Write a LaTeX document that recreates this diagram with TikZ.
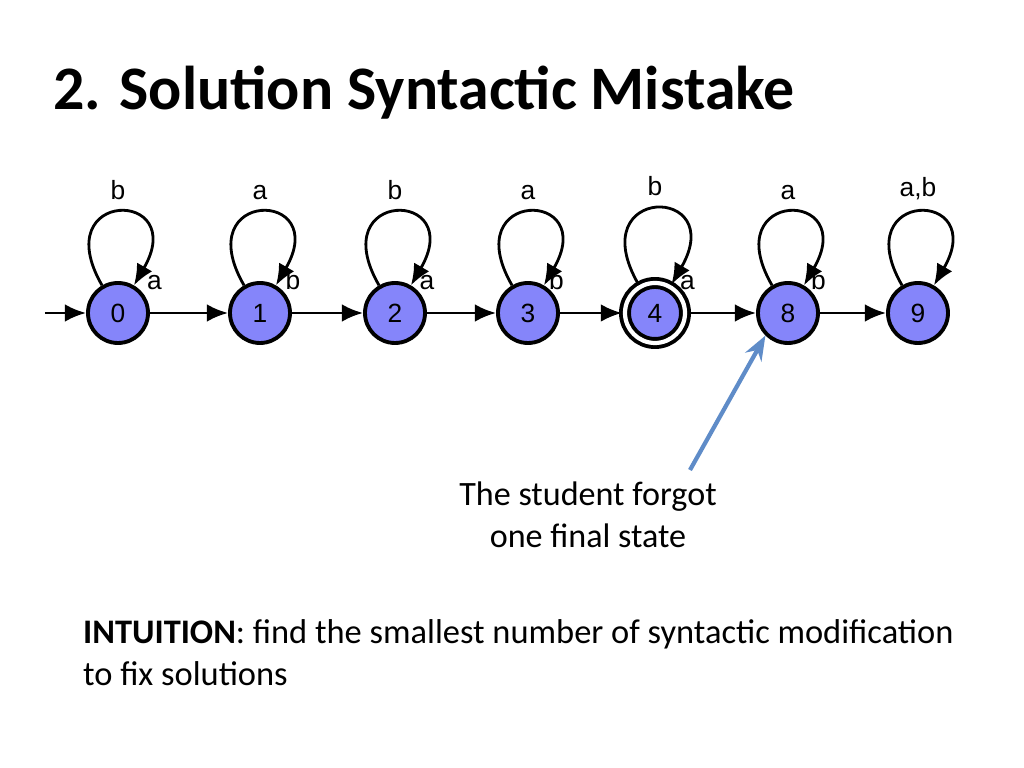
\documentclass[tikz,border=0pt]{standalone}
\usepackage{fontspec}
\setmainfont{Carlito}
\newfontfamily\autfont{Liberation Sans}
\usetikzlibrary{automata,arrows.meta,positioning}

\definecolor{statefill}{RGB}{133,133,250}
\definecolor{hintblue}{RGB}{95,140,200}

\begin{document}
\begin{tikzpicture}[font=\autfont\fontsize{7.5}{8}\selectfont,
  >={Latex[length=6pt,width=5pt]}, line width=0.8pt,
  every state/.style={draw=black, fill=statefill, circle, line width=1.1pt, minimum size=0.6cm, inner sep=0pt},
  selfloop/.style={loop, in=70, out=110, looseness=9, min distance=0.7cm, ->}]
  \useasboundingbox (0,0) rectangle (10.24,7.68);

  \node[anchor=west, font=\rmfamily\bfseries\fontsize{17.6}{21}\selectfont] (title) at (0.40,6.75) {2. Solution Syntactic Mistake};

  \node[state] (q0) at (1.18,4.55) {0};
  \node[state] (q1) at (2.60,4.55) {1};
  \node[state] (q2) at (3.95,4.55) {2};
  \node[state] (q3) at (5.28,4.55) {3};
  \node[state, accepting, fill=statefill, double=white, double distance=1.2pt] (q4) at (6.55,4.55) {4};
  \node[state] (q8) at (7.88,4.55) {8};
  \node[state] (q9) at (9.18,4.55) {9};
  \coordinate (start) at (0.45,4.55);

  \draw[->] (start) -- (q0);
  \draw[->]
    (q0) edge node[above left=3pt and 4pt] {a} (q1)
    (q1) edge node[above left=3pt and 4pt] {b} (q2)
    (q2) edge node[above left=3pt and 4pt] {a} (q3)
    (q3) edge node[above left=3pt and 4pt] {b} (q4)
    (q4) edge node[above left=3pt and 4pt] {a} (q8)
    (q8) edge node[above left=3pt and 4pt] {b} (q9);
  \path
    (q0) edge[selfloop, in=60, out=120] node[above] {b} (q0)
    (q1) edge[selfloop, in=60, out=120] node[above] {a} (q1)
    (q2) edge[selfloop, in=60, out=120] node[above] {b} (q2)
    (q3) edge[selfloop, in=60, out=120] node[above] {a} (q3)
    (q4) edge[selfloop, in=60, out=120] node[above] {b} (q4)
    (q8) edge[selfloop, in=60, out=120] node[above] {a} (q8)
    (q9) edge[selfloop, in=60, out=120] node[above] {a,b} (q9);

  \node[align=center, font=\rmfamily\fontsize{9.7}{12}\selectfont] (note) at (5.88,2.53) {The student forgot\\one final state};
  \draw[-{Stealth[length=7pt]}, hintblue, line width=1.2pt] (6.90,2.98) -- (q8.south west);

  \node[anchor=north west, align=left, font=\rmfamily\fontsize{9.8}{12}\selectfont] (intuition) at (0.70,1.62)
    {\textbf{INTUITION}: find the smallest number of syntactic modification\\to fix solutions};
\end{tikzpicture}
\end{document}
